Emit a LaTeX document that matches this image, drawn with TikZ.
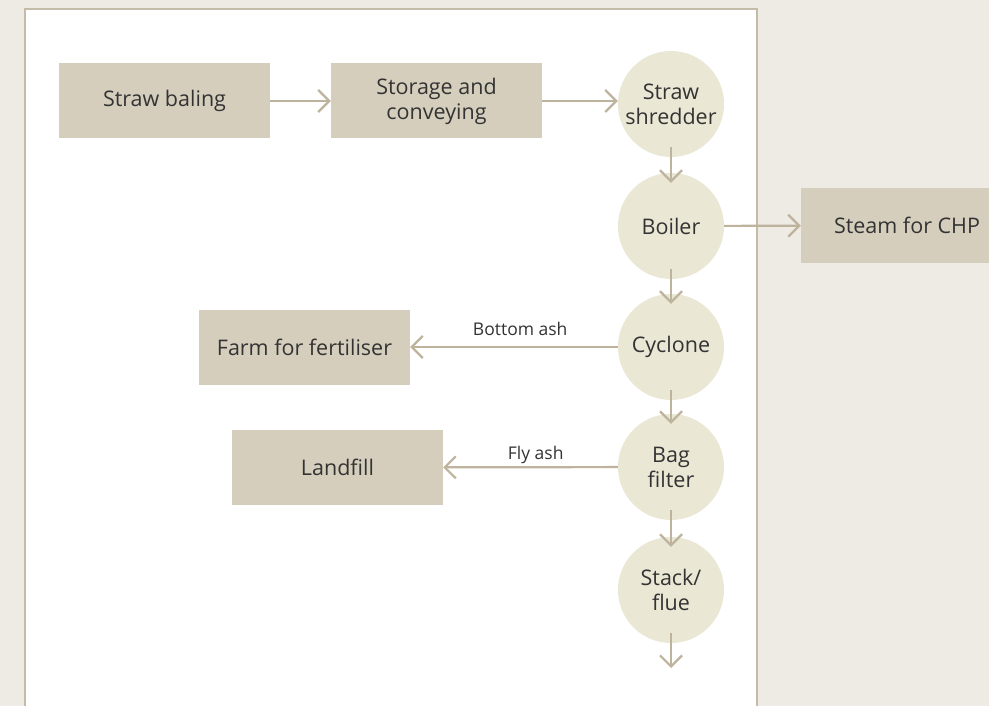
\documentclass[tikz,border=0pt]{standalone}
\usepackage{fontspec}
\setmainfont{Open Sans}
\usetikzlibrary{arrows.meta}
\definecolor{bgc}{HTML}{EEEAE4}
\definecolor{framec}{HTML}{C4BBA8}
\definecolor{boxc}{HTML}{D5CEBD}
\definecolor{circc}{HTML}{EAE7D5}
\definecolor{arrc}{HTML}{BEB49E}
\definecolor{txtc}{HTML}{333333}
\begin{document}
\begin{tikzpicture}[x=1pt,y=-1pt,
  every node/.style={text=txtc, font=\fontsize{21.5}{25}\selectfont, align=center},
  procbox/.style={fill=boxc, minimum width=211pt, minimum height=75pt, inner sep=0pt},
  stagecirc/.style={circle, fill=circc, minimum size=106pt, inner sep=0pt},
  flow/.style={draw=arrc, line width=2.2pt, -{Straight Barb[length=11pt,width=22pt,line width=2.2pt]}},
  flowlabel/.style={font=\fontsize{17.5}{20}\selectfont, inner sep=0pt}]
\useasboundingbox (0,0) rectangle (989,706);
\fill[bgc] (0,0) rectangle (989,706);
\fill[white] (25,9) rectangle (757,720);
\draw[framec, line width=2pt] (25,720) -- (25,9) -- (757,9) -- (757,720);

\node[procbox] (baling) at (164.5,101) {Straw baling};
\node[procbox] (storage) at (436.5,101) {Storage and\\conveying};
\node[stagecirc] (shredder) at (671,104) {Straw\\shredder};
\node[stagecirc] (boiler) at (671,226) {Boiler};
\node[stagecirc] (cyclone) at (671,347) {Cyclone};
\node[stagecirc] (bag) at (671,467) {Bag\\filter};
\node[stagecirc] (stack) at (671,590) {Stack/\\flue};
\node[procbox, minimum width=212pt] (steam) at (907,225.5) {Steam for CHP};
\node[procbox] (farm) at (304.5,347) {Farm for fertiliser};
\node[procbox] (landfill) at (337.5,467.5) {Landfill};
\coordinate (out) at (671,668);

\draw[flow] (baling) -- (storage);
\draw[flow] (storage.east) -- (storage.east -| shredder.west);
\draw[flow] ([yshift=10pt]shredder.south) -- ([yshift=-10pt]boiler.north);
\draw[flow] ([yshift=10pt]boiler.south) -- ([yshift=-10pt]cyclone.north);
\draw[flow] ([yshift=10pt]cyclone.south) -- ([yshift=-10pt]bag.north);
\draw[flow] ([yshift=10pt]bag.south) -- ([yshift=-10pt]stack.north);
\draw[flow] ([yshift=10pt]stack.south) -- (out);
\draw[flow] (boiler) -- (steam);
\draw[flow] (cyclone) -- node[flowlabel, pos=0.47, yshift=18pt] {Bottom ash} (farm);
\draw[flow] (bag) -- node[flowlabel, pos=0.47, yshift=12pt] {Fly ash} (landfill);
\end{tikzpicture}
\end{document}
